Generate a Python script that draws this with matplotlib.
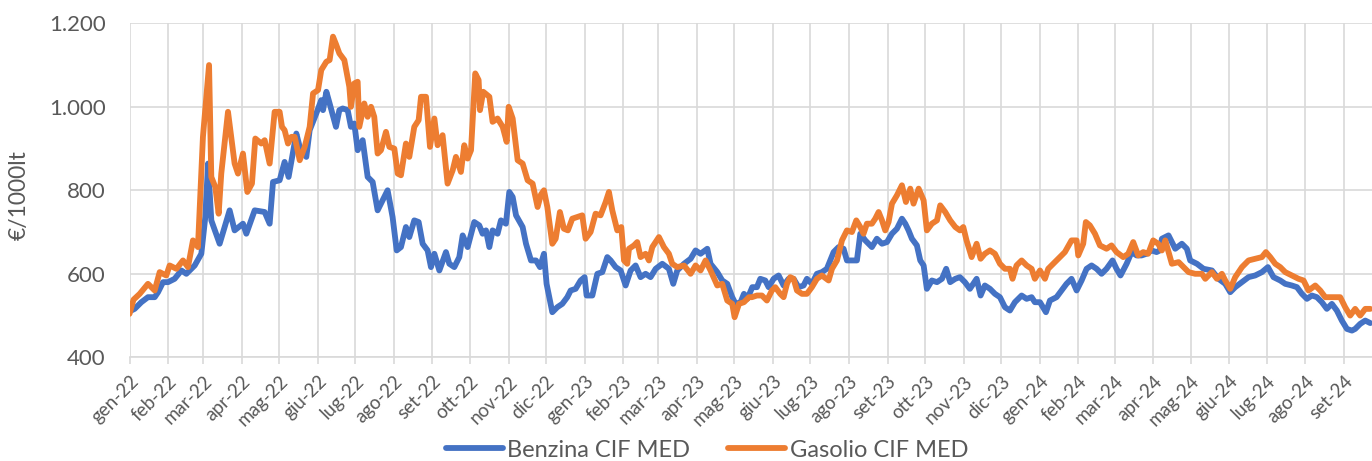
import pandas as pd
import numpy as np
import matplotlib
matplotlib.use('Agg')
import matplotlib.pyplot as plt
import matplotlib.dates as mdates
from matplotlib.ticker import FuncFormatter, MultipleLocator

plt.rcParams['font.family'] = ['Lato', 'DejaVu Sans']

# days counted from 1 Jan 2022, values in €/1000lt
benz_days = [0, 4.1, 9.5, 14.8, 20.2, 22.9, 26.9, 30.9, 36.2, 41.6, 45.6, 52.3, 57.6, 60.8, 63, 65.6,
             72.3, 80.3, 84.3, 91, 93.7, 100.4, 108.4, 112.4, 115.1, 120.4, 124.4, 127.6, 133.8, 136.5,
             141.8, 144.5, 149.8, 153.8, 155.2, 157.9, 160.5,
             165.6, 168.3, 171, 175, 177.6, 180.3, 183, 187, 191, 195, 199, 203, 207, 211, 214.3, 217.7,
             221.7, 224.4, 228.4, 231.9, 235.1, 239.1, 241.8, 244.5, 248.5, 253.8, 256.5, 260.5, 264.5,
             267.2, 271.2, 276.5, 280.5, 283.2, 285.9, 288.6, 291.2, 295.2, 297.9, 301.9, 304.6, 307.3,
             310, 315.3, 318, 322, 326, 329.2,
             332.4, 334.5, 339.1, 343.1, 347.1, 351.1, 353.8, 357.8, 361.8, 365, 366.6, 371.2, 375.2,
             379.2, 383.2, 385.9, 389.9, 393.9, 397.9, 401.9, 405.9, 409.9, 413.9, 417.9, 422, 427.3,
             432.6, 436.1, 439.3, 444.7, 450, 454, 458, 463.4, 466, 471.4, 475.4, 479.4, 483.4, 486.1,
             490.1, 492.8, 495.5, 499.5,
             503.2, 505.9, 509.9, 512.6, 516.6, 520.6, 524.6, 528.6, 532.6, 536.6, 540.6, 543.3, 547.3,
             551.3, 555.3, 559.3, 562, 564.7, 568.7, 572.7, 575.4, 579.4, 583.4, 586.1, 590.1, 595.4,
             599.4, 603.5, 607.5, 611.5, 615.5, 619.5, 622.2, 624.8, 627.5, 631.5, 634.2, 636.9, 639.5,
             643.5, 647.6, 651.6, 655, 658.2, 662.3,
             666, 670, 674, 679.4, 682.6, 686, 690.1, 694.1, 698.1, 702.1, 706.1, 710.1, 715.5, 719.5,
             723.5, 726.1, 730.2, 735, 738.2, 743.5, 747.5, 751.5, 755.5, 759.6, 763.6, 767.6, 771.6,
             775.6, 779.6, 783.6, 788.4, 791.6, 794.8, 799.7, 803.7, 807.7, 811.7, 815.7, 819.7, 823.7,
             826.4,
             828, 833.3, 838.7, 844, 848, 850.7, 856.1, 861.4, 868.1, 873.4, 878.8, 882.8, 886.8, 892.2,
             897.5, 902.8, 908.2, 913, 917.5, 922.9, 926.9, 932.2, 936.3, 940.3, 944.3, 948.3, 952.3,
             956.3, 960.3, 964.3, 968.3, 972.3, 976.4, 980.4, 983, 987, 991.1, 995.1]
benz_vals = [510, 516, 532, 544, 544, 556, 580, 580, 588, 608, 600, 620, 648, 736, 864, 728,
             672, 752, 704, 720, 696, 752, 748, 720, 820, 824, 868, 832, 936, 904,
             880, 944, 984, 1016, 992, 1036, 1008,
             952, 992, 996, 992, 952, 960, 896, 920, 832, 820, 752, 776, 800, 736, 656, 664,
             712, 688, 728, 724, 672, 656, 616, 648, 608, 652, 624, 616, 640,
             692, 664, 724, 716, 696, 704, 664, 704, 696, 728, 720, 796, 784,
             740, 712, 672, 632, 632, 616,
             648, 576, 508, 520, 528, 544, 560, 564, 584, 592, 548, 548, 600,
             604, 640, 632, 616, 608, 572, 608, 620, 592, 600, 592, 612, 624,
             612, 576, 608, 624, 636, 656, 648, 660, 624, 604, 584, 576, 544, 528,
             532, 552, 540, 568,
             568, 588, 584, 568, 588, 596, 572, 588, 588, 568, 572, 588, 576,
             600, 604, 612, 632, 652, 664, 660, 632, 632, 632, 696, 680, 664,
             684, 672, 676, 696, 708, 732, 720, 704, 684, 668, 632, 620, 564,
             584, 580, 588, 612, 580, 588,
             592, 580, 564, 588, 548, 572, 564, 552, 544, 520, 512, 532, 548, 540,
             544, 532, 532, 508, 536, 544, 560, 576, 588, 560, 584, 612, 620,
             612, 600, 612, 632, 612, 596, 624, 652, 644, 644, 648, 656, 652,
             656,
             684, 692, 660, 672, 660, 632, 624, 612, 608, 588, 576, 556, 568, 580,
             592, 596, 604, 616, 592, 584, 576, 572, 568, 552, 540, 548, 544,
             532, 516, 528, 512, 488, 468, 464, 468, 480, 488, 482]

gas_days = [0, 3.2, 8.2, 14.8, 20.2, 24.2, 29.5, 32.2, 37.6, 42.9, 46.9, 50.9, 54.9, 58.9, 63.8, 65.6,
            68.8, 71.5, 73.6, 79, 84.3, 87, 91, 94.5, 98.2, 100.9, 105.7, 108.4, 112.4, 116.4, 120.4,
            122.3, 124.4, 127.1, 129.8, 132.5, 136.5, 140.5, 144.5, 147.2, 151.2, 153.8, 157.9, 160.5,
            163.2,
            165.6, 168.3, 172.3, 176.3, 177.6, 180.3, 183, 184.3, 188.3, 191, 193.7, 196.3, 199, 201.7,
            205.7, 208.4, 212.4, 215.1, 217.7, 221.7, 224.4, 228.4, 231.9, 233.8, 237.8, 241, 244.5,
            247.1, 251.1, 255.1, 259.2, 261.8, 265.8, 268.5, 271.2, 273.9, 277.3, 280, 281.1, 283.7,
            288.6, 291.2, 295.2, 299.3, 302.5, 304.1, 307.3, 311.3, 315.3, 319.3, 323.3, 327.3, 330,
            332.4, 335.1, 339.1, 341.8, 345.2, 348.4, 351.6, 355.1, 359.1, 363.1, 365.8, 369.8, 373.8,
            377.8, 381.9, 384.5, 387.2, 391.2, 394.4, 396.6, 399.2, 400.6, 404.6, 407.2, 409.9, 413.9,
            416.6, 419.3, 424.6, 428.6, 432.6, 435.3, 439.3, 444.7, 450, 454, 458, 462, 466, 471.4,
            475.4, 479.4, 483.4, 485.3, 488.8, 492.8, 496.8,
            499.2, 503.2, 507.2, 511.2, 515.2, 517.9, 521.9, 524.6, 527.3, 529.9, 532.6, 535.3, 539.3,
            543.3, 547.3, 551.3, 555.3, 560.7, 563.4, 567.4, 571.4, 575.4, 579.4, 582.9, 586.1, 588.7,
            591.4, 595.4, 598.1, 600.8, 603.5, 606.1, 608.8, 611.5, 615.5, 619.5, 622.7, 626.2, 628.8,
            632.9, 636.9, 639.5, 643.5, 647.6, 650.2, 654.2, 658.2, 662.3,
            666, 668.7, 671.3, 675.4, 679.4, 682.6, 686, 690.1, 694.1, 698.1, 702.1, 706.1, 708.2,
            711.4, 715.5, 719.5, 723.5, 726.1, 730.2, 734.2, 736.8, 740.8, 746.2, 750.2, 755.5, 759.6,
            760.9, 764.9, 767, 770.2, 774.3, 778.3, 783.6, 787.6, 791.6, 797, 801, 805, 809, 813, 817,
            821, 825,
            828, 830.7, 836, 841.4, 845.4, 849.4, 854.7, 860.1, 862.8, 868.1, 872.1, 876.1, 878.8,
            882.8, 886.8, 892.2, 897.5, 902.8, 908.2, 911.4, 914.9, 918.9, 922.9, 926.9, 932.2, 937.6,
            941.6, 945.6, 951, 955, 959, 963, 967, 971, 975, 979, 983, 987, 991.1, 995.1]
gas_vals = [504, 538, 552, 576, 560, 604, 596, 620, 612, 632, 616, 680, 664, 928, 1100, 832,
            808, 744, 840, 988, 864, 840, 888, 796, 816, 924, 912, 920, 864, 988, 988,
            952, 944, 912, 928, 928, 872, 904, 952, 1032, 1040, 1088, 1108, 1112,
            1168,
            1150, 1128, 1112, 1048, 1000, 1056, 1060, 952, 1008, 976, 1000, 976, 888, 896,
            940, 904, 900, 840, 836, 912, 880, 952, 968, 1024, 1024, 904, 972,
            908, 932, 816, 848, 880, 844, 908, 876, 896, 1080, 1064, 992, 1036,
            1024, 964, 972, 952, 916, 1000, 972, 872, 864, 824, 816, 760, 790,
            800, 760, 672, 684, 748, 708, 704, 732, 736, 740, 684, 700, 744,
            740, 772, 796, 752, 704, 712, 632, 624, 660, 668, 676, 640, 648,
            632, 664, 688, 664, 648, 624, 616, 620, 600, 620, 608, 632, 608, 572,
            576, 536, 528, 496, 528, 532, 544,
            544, 548, 548, 536, 560, 568, 552, 544, 576, 592, 588, 560, 552,
            552, 568, 588, 596, 584, 612, 632, 680, 704, 700, 728, 712, 696,
            720, 720, 732, 748, 728, 704, 724, 768, 788, 812, 772, 804, 768,
            804, 776, 704, 720, 728, 764, 748, 728, 712,
            704, 712, 680, 640, 672, 636, 648, 656, 648, 624, 612, 612, 588,
            620, 632, 620, 612, 588, 608, 588, 612, 624, 640, 652, 680, 680,
            644, 672, 724, 716, 696, 668, 660, 668, 652, 640, 648, 676, 644, 652, 648,
            680, 672,
            656, 680, 624, 628, 616, 604, 600, 600, 588, 604, 588, 600, 584,
            564, 592, 616, 632, 636, 640, 652, 640, 624, 616, 604, 596, 588,
            584, 560, 572, 560, 544, 544, 544, 544, 520, 500, 516, 500, 516, 516]

MESI = ['gen', 'feb', 'mar', 'apr', 'mag', 'giu', 'lug', 'ago', 'set', 'ott', 'nov', 'dic']
start = pd.Timestamp('2022-01-01')


def to_dates(days):
    return start + pd.to_timedelta(np.array(days), unit='D')


def month_label(v, pos):
    d = mdates.num2date(v)
    return f"{MESI[d.month - 1]}-{d.year % 100:02d}"


grey = '#595959'
gridc = '#D9D9D9'

fig = plt.figure(figsize=(13.72, 4.61), dpi=100)
ax = fig.add_axes([129.5 / 1372, 103.7 / 461, 1 - 129.5 / 1372, 334 / 461])

ax.plot(to_dates(benz_days), benz_vals, color='#4472C4', lw=4.2,
        solid_joinstyle='round', solid_capstyle='round', label='Benzina CIF MED')
ax.plot(to_dates(gas_days), gas_vals, color='#ED7D31', lw=4.2,
        solid_joinstyle='round', solid_capstyle='round', label='Gasolio CIF MED')

ax.set_ylim(400, 1200)
ax.set_xlim(start, start + pd.Timedelta(days=996.5))
ax.yaxis.set_major_locator(MultipleLocator(200))
ax.yaxis.set_major_formatter(FuncFormatter(lambda v, p: f'{int(v):,}'.replace(',', '.')))
ax.xaxis.set_major_locator(mdates.MonthLocator())
ax.xaxis.set_major_formatter(FuncFormatter(month_label))

ax.grid(True, color=gridc, lw=1.2)
ax.set_axisbelow(True)
for s in ['top', 'right', 'left']:
    ax.spines[s].set_visible(False)
ax.spines['bottom'].set_color(gridc)
ax.spines['bottom'].set_linewidth(1.2)

ax.tick_params(axis='y', length=0, pad=17, labelsize=16, labelcolor=grey)
ax.tick_params(axis='x', length=5, width=1.2, color=gridc, pad=6, labelsize=13.5, labelcolor=grey)
for lbl in ax.get_xticklabels():
    lbl.set_rotation(45)
    lbl.set_ha('right')
    lbl.set_rotation_mode('anchor')

fig.text(19 / 1372, 1 - 195 / 461, '€/1000lt', rotation=90, ha='center', va='center',
         fontsize=16.5, color=grey)

fig.legend(loc='center', bbox_to_anchor=(707 / 1372, 1 - 450 / 461), ncol=2, frameon=False,
           fontsize=17, handlelength=2.4, handletextpad=0.2, columnspacing=1.6, labelcolor=grey)

fig.savefig('out.png', dpi=100)
